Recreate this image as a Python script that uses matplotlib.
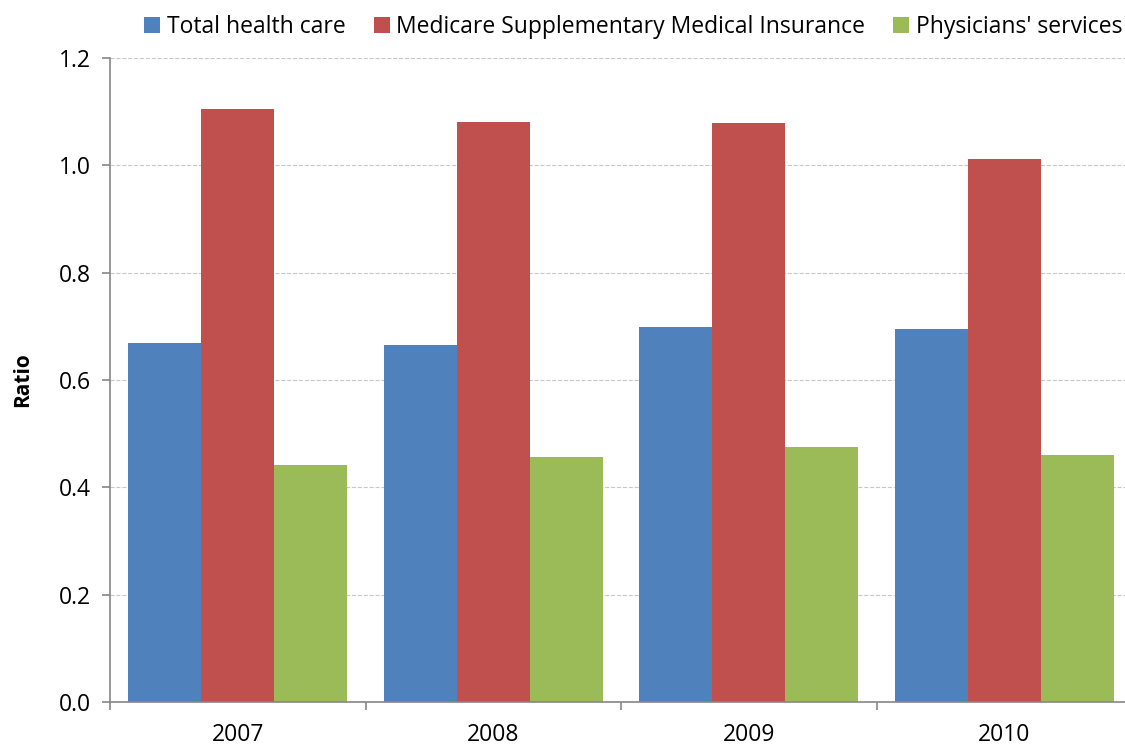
import numpy as np
import matplotlib.pyplot as plt

plt.rcParams['font.family'] = ['Open Sans', 'DejaVu Sans']

years = ['2007', '2008', '2009', '2010']
total_health = [0.669, 0.665, 0.699, 0.695]
medicare_smi = [1.105, 1.081, 1.079, 1.012]
physicians = [0.442, 0.457, 0.475, 0.460]

series = [
    ('Total health care', total_health, '#4F81BD'),
    ('Medicare Supplementary Medical Insurance', medicare_smi, '#C0504D'),
    ("Physicians' services", physicians, '#9BBB59'),
]

fig = plt.figure(figsize=(11.25, 7.47), dpi=100)
ax = fig.add_axes([110/1125, 45/747, 1022/1125, 644/747])

x = np.arange(len(years))
w = 0.286
for i, (name, vals, col) in enumerate(series):
    ax.bar(x + (i - 1) * w, vals, w, color=col, label=name, zorder=2)

ax.set_xlim(-0.5, len(years) - 0.5)
ax.set_ylim(0, 1.2)
ax.set_yticks(np.arange(0, 1.21, 0.2))
ax.set_yticklabels([f'{v:.1f}' for v in np.arange(0, 1.21, 0.2)])
ax.set_xticks(x)
ax.set_xticklabels(years)
ax.set_xticks(np.arange(-0.5, len(years) + 0.5, 1), minor=True)
ax.tick_params(axis='x', which='major', length=0, labelsize=16.5, pad=15)
ax.tick_params(axis='x', which='minor', length=6, color='#868686', width=1.2)
ax.tick_params(axis='y', length=6, color='#868686', width=1.2, labelsize=16.5, pad=8)

ax.yaxis.grid(True, color='#C8C8C8', linestyle='--', linewidth=0.8, zorder=0)
for s in ['top', 'right']:
    ax.spines[s].set_visible(False)
for s in ['left', 'bottom']:
    ax.spines[s].set_color('#868686')
    ax.spines[s].set_linewidth(1.2)

ax.set_ylabel('Ratio', fontsize=15, fontweight='bold', labelpad=18)

fig.legend(loc='upper center', bbox_to_anchor=(0.563, 1.008), ncol=3, frameon=False,
           fontsize=16.5, handlelength=0.7, handleheight=0.7, handletextpad=0.3,
           columnspacing=1.2)

fig.savefig('out.png', dpi=100)
